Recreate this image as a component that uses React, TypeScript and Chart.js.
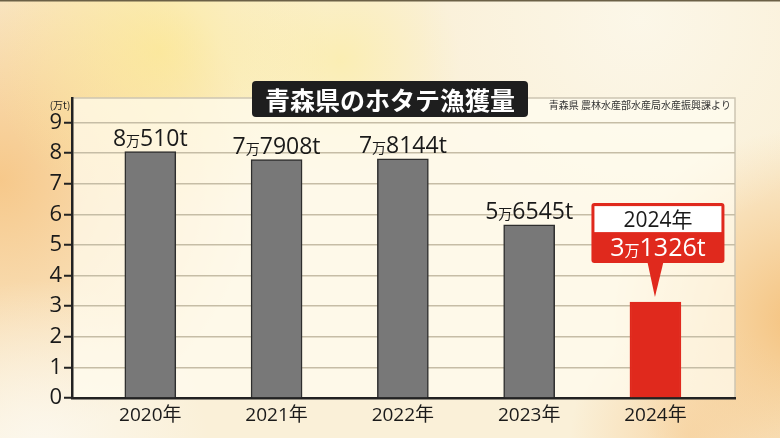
import React, { useEffect, useRef } from "react";
import { Chart, registerables } from "chart.js";

Chart.register(...registerables);

const years = ["2020年", "2021年", "2022年", "2023年", "2024年"];
const catch10kTons = [8.051, 7.7908, 7.8144, 5.6545, 3.1326];
const valueLabelsMan = ["8", "7", "7", "5", "3"];
const valueLabelsRest = ["510t", "7908t", "8144t", "6545t", "1326t"];
const yTicks = [0, 1, 2, 3, 4, 5, 6, 7, 8, 9];
const titleText = "青森県のホタテ漁獲量";
const sourceText = "青森県 農林水産部水産局水産振興課より";
const unitText = "(万t)";
const highlightTitle = "2024年";

const FONT = '"Open Sans", "Noto Sans CJK JP", sans-serif';
const CJK = '"Noto Sans CJK JP", "Noto Sans", sans-serif';
const GRAY = "#787878";
const RED = "#e0291d";

function roundRect(ctx: CanvasRenderingContext2D, x: number, y: number, w: number, h: number, r: number) {
  ctx.beginPath();
  ctx.moveTo(x + r, y);
  ctx.lineTo(x + w - r, y);
  ctx.quadraticCurveTo(x + w, y, x + w, y + r);
  ctx.lineTo(x + w, y + h - r);
  ctx.quadraticCurveTo(x + w, y + h, x + w - r, y + h);
  ctx.lineTo(x + r, y + h);
  ctx.quadraticCurveTo(x, y + h, x, y + h - r);
  ctx.lineTo(x, y + r);
  ctx.quadraticCurveTo(x, y, x + r, y);
  ctx.closePath();
}

function drawManLabel(
  ctx: CanvasRenderingContext2D,
  cx: number,
  baseline: number,
  a: string,
  b: string,
  big: number,
  small: number,
  color: string
) {
  ctx.save();
  ctx.fillStyle = color;
  ctx.textBaseline = "alphabetic";
  ctx.textAlign = "left";
  const fBig = `${big}px ${FONT}`;
  const fSmall = `${small}px ${CJK}`;
  ctx.font = fBig;
  const wa = ctx.measureText(a).width;
  const wb = ctx.measureText(b).width;
  ctx.font = fSmall;
  const wm = ctx.measureText("万").width;
  const total = wa + wm + wb;
  let x = cx - total / 2;
  ctx.font = fBig;
  ctx.fillText(a, x, baseline);
  x += wa;
  ctx.font = fSmall;
  ctx.fillText("万", x, baseline);
  x += wm;
  ctx.font = fBig;
  ctx.fillText(b, x, baseline);
  ctx.restore();
}

const backgroundPlugin = {
  id: "bgPanel",
  beforeDraw(chart: any) {
    const { ctx, width, height, chartArea } = chart;
    ctx.save();
    ctx.fillStyle = "#faf0d8";
    ctx.fillRect(0, 0, width, height);
    const blobs: [number, number, number, string][] = [
      [0, 180, 260, "rgba(246,196,130,0.9)"],
      [160, 50, 170, "rgba(252,232,140,0.7)"],
      [340, 60, 120, "rgba(252,236,150,0.55)"],
      [800, 320, 190, "rgba(244,186,110,0.85)"],
      [690, 438, 120, "rgba(246,200,140,0.6)"],
      [640, 20, 220, "rgba(252,248,235,0.85)"],
      [40, 450, 170, "rgba(252,248,238,0.95)"],
    ];
    for (const [x, y, r, c] of blobs) {
      const g = ctx.createRadialGradient(x, y, 0, x, y, r);
      g.addColorStop(0, c);
      g.addColorStop(1, c.replace(/[\d.]+\)$/, "0)"));
      ctx.fillStyle = g;
      ctx.fillRect(0, 0, width, height);
    }
    ctx.fillStyle = "#6b6046";
    ctx.fillRect(0, 0, width, 1.5);
    const { left, top, right, bottom } = chartArea;
    ctx.fillStyle = "rgba(255,252,240,0.72)";
    ctx.fillRect(left, top, right - left, bottom - top);
    ctx.strokeStyle = "#cdc5b2";
    ctx.lineWidth = 1.5;
    ctx.beginPath();
    ctx.moveTo(left, top);
    ctx.lineTo(right, top);
    ctx.lineTo(right, bottom);
    ctx.stroke();
    ctx.restore();
  },
};

const labelsPlugin = {
  id: "labels",
  afterDraw(chart: any) {
    const { ctx, chartArea } = chart;
    const meta = chart.getDatasetMeta(0);
    const n = meta.data.length;
    for (let i = 0; i < n - 1; i++) {
      const el = meta.data[i];
      drawManLabel(ctx, el.x, el.y - 6, valueLabelsMan[i], valueLabelsRest[i], 23, 14, "#1a1a1a");
    }
    const last = meta.data[n - 1];
    const bx = last.x;
    const by = last.y;
    const bw = 133;
    const boxL = bx - 64;
    const boxTop = by - 99;
    const midY = boxTop + 29;
    const boxBottom = boxTop + 60;
    ctx.save();
    ctx.fillStyle = RED;
    ctx.beginPath();
    ctx.moveTo(bx - 8, boxBottom - 1);
    ctx.lineTo(bx + 8, boxBottom - 1);
    ctx.lineTo(bx - 0.5, by - 5);
    ctx.closePath();
    ctx.fill();
    roundRect(ctx, boxL, boxTop, bw, 60, 3);
    ctx.fillStyle = RED;
    ctx.fill();
    ctx.fillStyle = "#ffffff";
    ctx.fillRect(boxL + 3, boxTop + 3, bw - 6, midY - boxTop - 3);
    ctx.fillStyle = "#1a1a1a";
    ctx.font = `21px ${FONT}`;
    ctx.textAlign = "center";
    ctx.textBaseline = "alphabetic";
    ctx.fillText(highlightTitle, boxL + bw / 2, midY - 5);
    ctx.restore();
    drawManLabel(ctx, boxL + bw / 2, boxBottom - 7, valueLabelsMan[n - 1], valueLabelsRest[n - 1], 25, 15, "#ffffff");

    ctx.save();
    ctx.font = `bold 25px ${CJK}`;
    const tw = ctx.measureText(titleText).width;
    const tcx = 390;
    roundRect(ctx, tcx - tw / 2 - 13, 81, tw + 26, 36, 4);
    ctx.fillStyle = "#1e1e1e";
    ctx.fill();
    ctx.fillStyle = "#ffffff";
    ctx.textAlign = "center";
    ctx.textBaseline = "middle";
    ctx.fillText(titleText, tcx, 100);
    ctx.font = `10px ${CJK}`;
    ctx.fillStyle = "#333333";
    ctx.textAlign = "right";
    ctx.fillText(sourceText, chartArea.right - 4, 105);
    ctx.font = `10px ${CJK}`;
    ctx.fillStyle = "#222222";
    ctx.textAlign = "center";
    ctx.fillText(unitText, 60, 105);
    ctx.restore();
  },
};

export default function App() {
  const ref = useRef<HTMLCanvasElement | null>(null);
  useEffect(() => {
    if (!ref.current) return;
    const chart = new Chart(ref.current, {
      type: "bar",
      data: {
        datasets: [
          {
            data: catch10kTons.map((v, i) => ({ x: i, y: v })),
            backgroundColor: catch10kTons.map((_, i) => (i === catch10kTons.length - 1 ? RED : GRAY)),
            borderColor: catch10kTons.map((_, i) => (i === catch10kTons.length - 1 ? RED : "#2e2e2e")),
            borderWidth: 1.5,
            barThickness: 51,
          },
        ],
      },
      options: {
        animation: false,
        responsive: false,
        maintainAspectRatio: false,
        layout: { padding: { left: 0, top: 98, right: 45, bottom: 0 } },
        plugins: { legend: { display: false }, tooltip: { enabled: false } },
        scales: {
          x: {
            type: "linear",
            offset: false,
            min: -0.62,
            max: 4.63,
            bounds: "data",
            grid: { display: false },
            border: { display: true, color: "#222", width: 2.5 },
            afterBuildTicks: (s: any) => {
              s.ticks = years.map((_, i) => ({ value: i }));
            },
            ticks: {
              autoSkip: false,
              maxRotation: 0,
              minRotation: 0,
              padding: -2,
              color: "#1a1a1a",
              font: { family: FONT, size: 19 },
              callback: (v: any) => years[Math.round(Number(v))] ?? "",
            },
            afterFit: (s: any) => {
              s.height = 40;
            },
          },
          y: {
            min: 0,
            max: 9.8,
            afterBuildTicks: (s: any) => {
              s.ticks = yTicks.map((v) => ({ value: v }));
            },
            grid: {
              color: "#c6bda6",
              lineWidth: 1.5,
              tickLength: 8,
              tickColor: "#222",
              tickWidth: 2,
            },
            border: { display: true, color: "#222", width: 2.5 },
            ticks: {
              padding: 2,
              color: "#1a1a1a",
              font: { family: FONT, size: 22 },
            },
            afterFit: (s: any) => {
              s.width = 72;
            },
          },
        },
      },
      plugins: [backgroundPlugin, labelsPlugin],
    } as any);
    return () => chart.destroy();
  }, []);
  return (
    <div style={{ position: "fixed", left: 0, top: 0, width: 780, height: 438 }}>
      <canvas ref={ref} width={780} height={438} style={{ width: 780, height: 438, display: "block" }} />
    </div>
  );
}
